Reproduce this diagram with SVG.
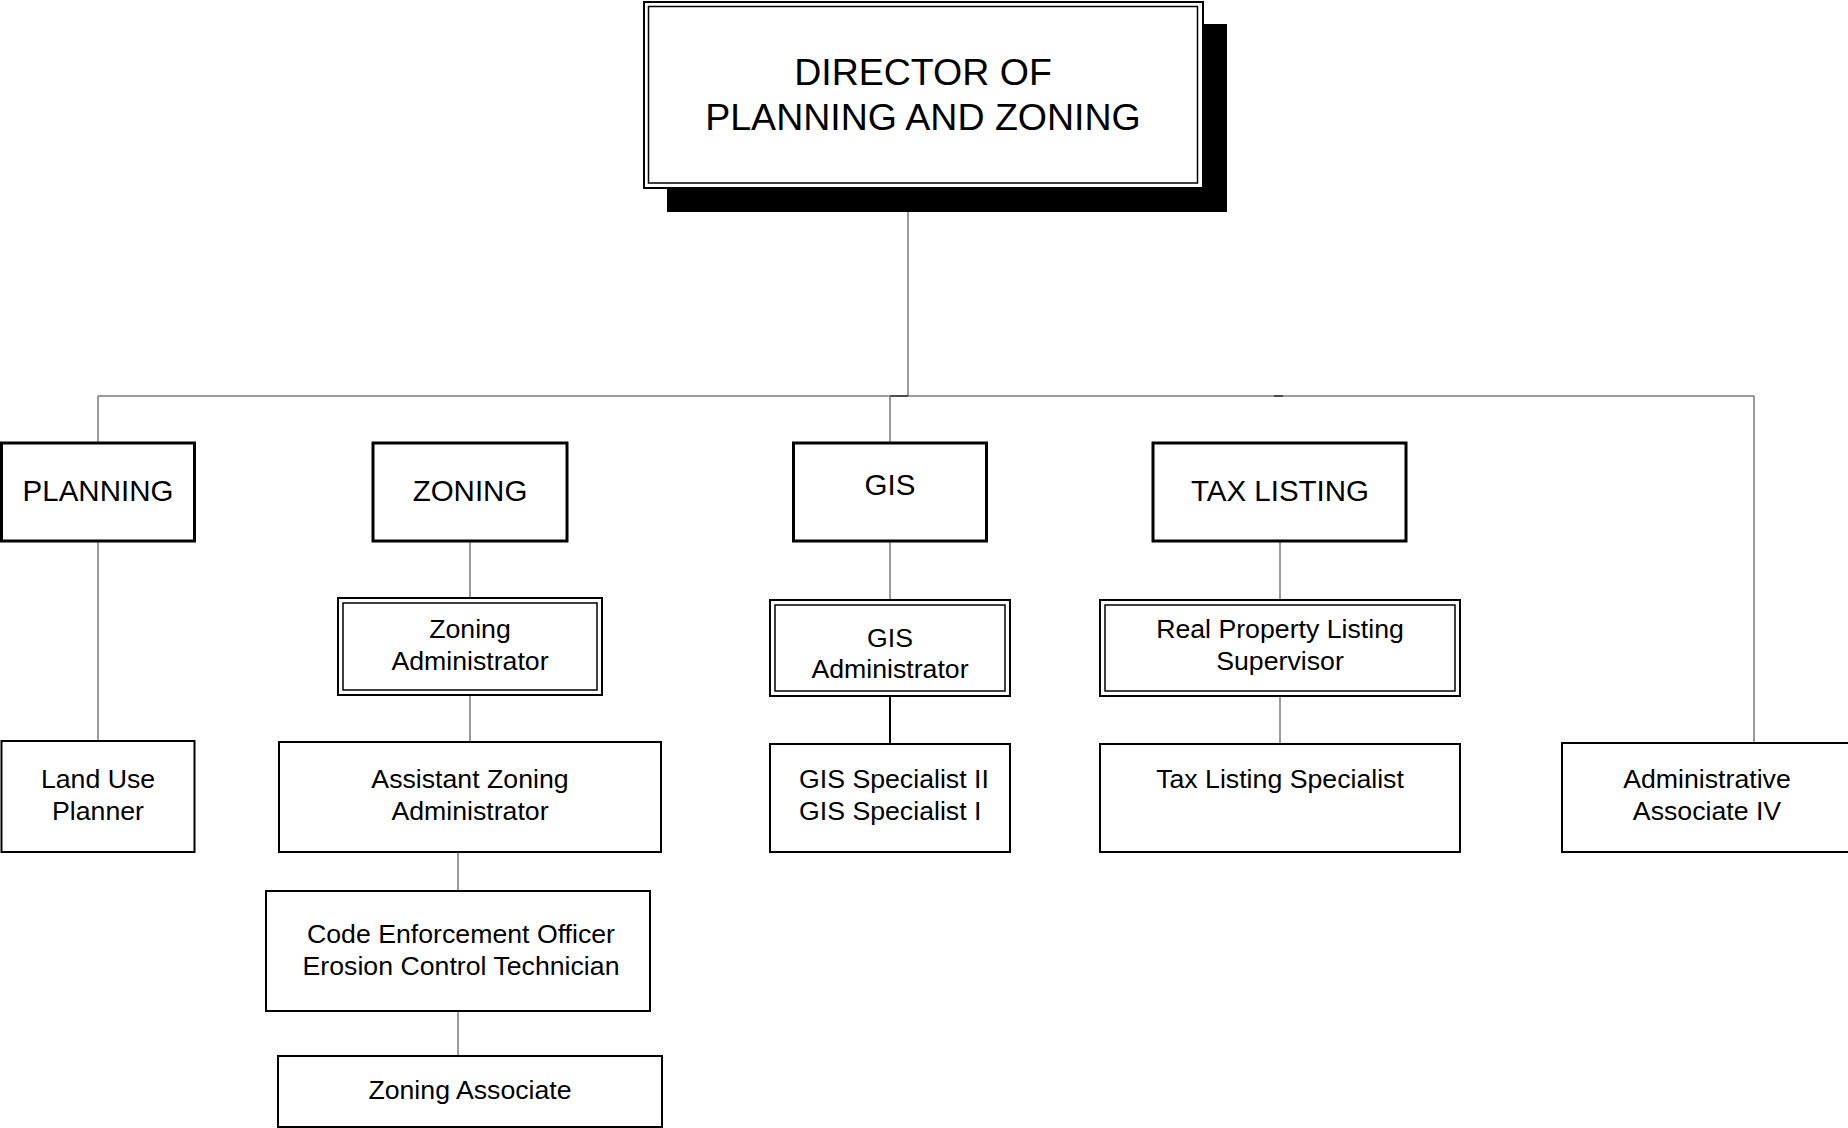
<svg xmlns="http://www.w3.org/2000/svg" width="1848" height="1128" viewBox="0 0 1848 1128">
<style>
text{font-family:"Liberation Sans",Arial,sans-serif;fill:#000;text-anchor:middle}
.t0{font-size:37.5px}
.t1{font-size:29.5px}
.t2{font-size:26.7px}
.b1{fill:#fff;stroke:#000;stroke-width:3}
.b2{fill:#fff;stroke:#000;stroke-width:2}
.bi{fill:none;stroke:#000;stroke-width:1.5}
.c{stroke:#7a7a7a;stroke-width:1.5;fill:none}
.cd{stroke:#333;stroke-width:1.5;fill:none}
.ck{stroke:#000;stroke-width:2;fill:none}
</style>
<rect width="1848" height="1128" fill="#fff"/>
<g id="connectors">
<line class="c" x1="908" y1="212" x2="908" y2="396"/>
<line class="c" x1="98" y1="396" x2="1754" y2="396"/>
<line class="cd" x1="890" y1="396" x2="908" y2="396"/>
<line class="cd" x1="1274" y1="396" x2="1283" y2="396"/>
<line class="c" x1="98" y1="396" x2="98" y2="443"/>
<line class="c" x1="890" y1="396" x2="890" y2="443"/>
<line class="c" x1="1754" y1="396" x2="1754" y2="743"/>
<line class="c" x1="98" y1="541" x2="98" y2="741"/>
<line class="c" x1="470" y1="541" x2="470" y2="598"/>
<line class="c" x1="470" y1="695" x2="470" y2="742"/>
<line class="c" x1="458" y1="852" x2="458" y2="891"/>
<line class="c" x1="458" y1="1011" x2="458" y2="1056"/>
<line class="c" x1="890" y1="541" x2="890" y2="600"/>
<line class="ck" x1="890" y1="696" x2="890" y2="744"/>
<line class="c" x1="1280" y1="541" x2="1280" y2="600"/>
<line class="c" x1="1280" y1="696" x2="1280" y2="744"/>
</g>
<g id="director">
<rect x="667" y="24" width="560" height="188" fill="#000"/>
<rect x="644" y="2" width="559" height="186" class="b2"/>
<rect x="648.5" y="6.5" width="549" height="176.5" class="bi"/>
<text class="t0" x="923" y="85">DIRECTOR OF</text>
<text class="t0" x="923" y="130">PLANNING AND ZONING</text>
</g>
<g id="planning">
<rect x="1.5" y="443" width="193" height="98" class="b1"/>
<text class="t1" x="98" y="501">PLANNING</text>
</g>
<g id="zoning">
<rect x="373" y="443" width="194" height="98" class="b1"/>
<text class="t1" x="470" y="501">ZONING</text>
</g>
<g id="gis">
<rect x="793.5" y="443" width="193" height="98" class="b1"/>
<text class="t1" x="890" y="495">GIS</text>
</g>
<g id="tax-listing">
<rect x="1153" y="443" width="253" height="98" class="b1"/>
<text class="t1" x="1280" y="501">TAX LISTING</text>
</g>
<g id="zoning-administrator">
<rect x="338" y="598" width="264" height="97" class="b2"/>
<rect x="343" y="603" width="254" height="87" class="bi"/>
<text class="t2" x="470" y="638">Zoning</text>
<text class="t2" x="470" y="670">Administrator</text>
</g>
<g id="gis-administrator">
<rect x="770" y="600" width="240" height="96" class="b2"/>
<rect x="775" y="605" width="230" height="86" class="bi"/>
<text class="t2" x="890" y="647">GIS</text>
<text class="t2" x="890" y="678">Administrator</text>
</g>
<g id="real-property-listing-supervisor">
<rect x="1100" y="600" width="360" height="96" class="b2"/>
<rect x="1105" y="605" width="350" height="86" class="bi"/>
<text class="t2" x="1280" y="638">Real Property Listing</text>
<text class="t2" x="1280" y="670">Supervisor</text>
</g>
<g id="land-use-planner">
<rect x="1.5" y="741" width="193" height="111" class="b2"/>
<text class="t2" x="98" y="788">Land Use</text>
<text class="t2" x="98" y="820">Planner</text>
</g>
<g id="assistant-zoning-administrator">
<rect x="279" y="742" width="382" height="110" class="b2"/>
<text class="t2" x="470" y="788">Assistant Zoning</text>
<text class="t2" x="470" y="820">Administrator</text>
</g>
<g id="code-enforcement">
<rect x="266" y="891" width="384" height="120" class="b2"/>
<text class="t2" x="461" y="943">Code Enforcement Officer</text>
<text class="t2" x="461" y="975">Erosion Control Technician</text>
</g>
<g id="zoning-associate">
<rect x="278" y="1056" width="384" height="71" class="b2"/>
<text class="t2" x="470" y="1099">Zoning Associate</text>
</g>
<g id="gis-specialist">
<rect x="770" y="744" width="240" height="108" class="b2"/>
<text class="t2" x="799" y="788" style="text-anchor:start">GIS Specialist II</text>
<text class="t2" x="799" y="820" style="text-anchor:start">GIS Specialist I</text>
</g>
<g id="tax-listing-specialist">
<rect x="1100" y="744" width="360" height="108" class="b2"/>
<text class="t2" x="1280" y="788">Tax Listing Specialist</text>
</g>
<g id="administrative-associate">
<rect x="1562" y="743" width="290" height="109" class="b2"/>
<text class="t2" x="1707" y="788">Administrative</text>
<text class="t2" x="1707" y="820">Associate IV</text>
</g>
</svg>
